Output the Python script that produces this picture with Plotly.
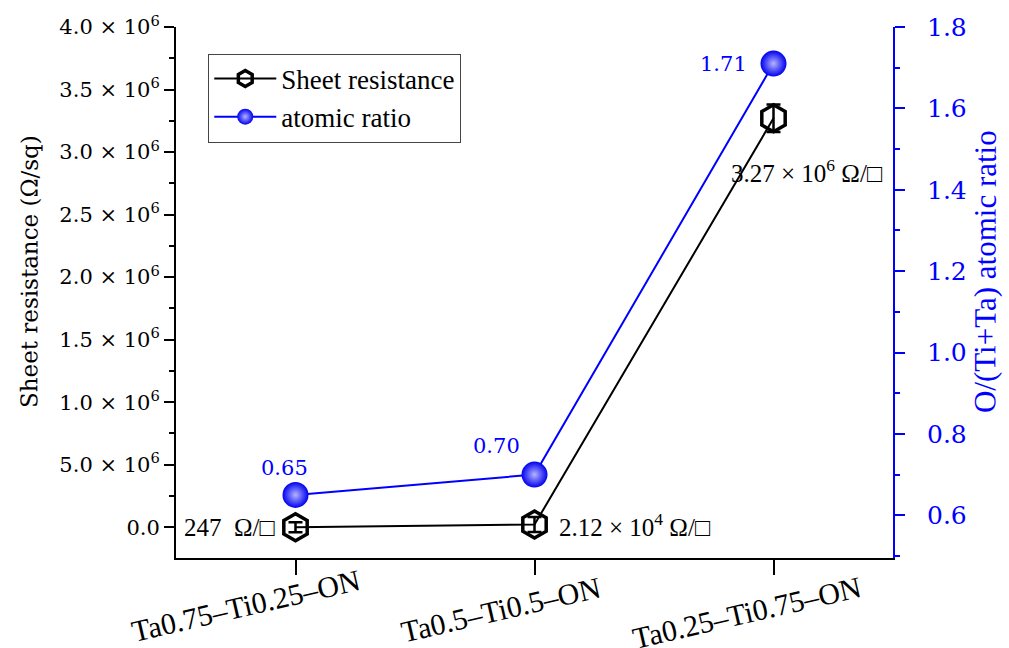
import plotly.graph_objects as go

# Samples along the x axis
samples = ["Ta0.75–Ti0.25–ON", "Ta0.5–Ti0.5–ON", "Ta0.25–Ti0.75–ON"]

# Sheet resistance (Ω/sq) with its error
sheet_res = [247, 2.12e4, 3.27e6]
sheet_err = [4.0e4, 6.0e4, 1.1e5]
sheet_labels = ["247  Ω/□", "2.12 × 10<sup>4</sup> Ω/□", "3.27 × 10<sup>6</sup> Ω/□"]

# O/(Ti+Ta) atomic ratio
atomic_ratio = [0.65, 0.70, 1.71]
ratio_labels = ["0.65", "0.70", "1.71"]

# Left axis ticks
left_tickvals = [0, 0.5e6, 1.0e6, 1.5e6, 2.0e6, 2.5e6, 3.0e6, 3.5e6, 4.0e6]
left_ticktext = ["0.0", "5.0 × 10<sup>6</sup>", "1.0 × 10<sup>6</sup>", "1.5 × 10<sup>6</sup>",
                 "2.0 × 10<sup>6</sup>", "2.5 × 10<sup>6</sup>", "3.0 × 10<sup>6</sup>",
                 "3.5 × 10<sup>6</sup>", "4.0 × 10<sup>6</sup>"]
# Right axis ticks
right_tickvals = [0.6, 0.8, 1.0, 1.2, 1.4, 1.6, 1.8]

# Axis titles
left_title = "Sheet resistance (Ω/sq)"
right_title = "O/(Ti+Ta) atomic ratio"

SERIF = "Liberation Serif"
WIDE_SERIF = "DejaVu Serif"
BLUE = "#0000ff"

fig = go.Figure()

fig.add_trace(go.Scatter(
    x=[0, 1, 2], y=sheet_res, name="Sheet resistance",
    mode="lines+markers",
    line=dict(color="black", width=2),
    marker=dict(symbol="hexagon-open", size=27, color="black",
                line=dict(width=3.5, color="black")),
    error_y=dict(type="data", array=sheet_err, visible=True,
                 color="black", thickness=2.5, width=7),
    yaxis="y",
))

fig.add_trace(go.Scatter(
    x=[0, 1, 2], y=atomic_ratio, name="atomic ratio",
    mode="lines+markers",
    line=dict(color=BLUE, width=2),
    marker=dict(symbol="circle", size=26, color="#0000f0",
                gradient=dict(type="radial", color="#b4b4ff"),
                line=dict(width=0)),
    yaxis="y2",
))

annotations = []

# Sheet resistance value labels
sheet_label_pos = [
    dict(xanchor="right", xshift=-18, yshift=0),
    dict(xanchor="left", xshift=22, yshift=0),
    dict(xanchor="left", xshift=-45, yshift=-53),
]
for i, (v, t) in enumerate(zip(sheet_res, sheet_labels)):
    p = sheet_label_pos[i]
    annotations.append(dict(
        x=i, y=v, xref="x", yref="y", text=t, showarrow=False,
        xanchor=p["xanchor"], yanchor="middle", xshift=p["xshift"], yshift=p["yshift"],
        font=dict(family=SERIF, size=25, color="black"),
    ))

# Atomic ratio value labels
ratio_label_pos = [
    dict(xanchor="center", xshift=-11, yshift=27),
    dict(xanchor="center", xshift=-38, yshift=29),
    dict(xanchor="right", xshift=-25, yshift=0),
]
for i, (v, t) in enumerate(zip(atomic_ratio, ratio_labels)):
    p = ratio_label_pos[i]
    annotations.append(dict(
        x=i, y=v, xref="x", yref="y2", text=t, showarrow=False,
        xanchor=p["xanchor"], yanchor="middle", xshift=p["xshift"], yshift=p["yshift"],
        font=dict(family=WIDE_SERIF, size=21, color=BLUE),
    ))

# Slanted category labels under the x axis
cat_label_pos = [(-50, -47), (-34, -51), (-27, -54)]
for i, name in enumerate(samples):
    dx, dy = cat_label_pos[i]
    annotations.append(dict(
        x=i, y=0, xref="x", yref="paper", text=name, showarrow=False,
        textangle=-13, xanchor="center", yanchor="middle",
        xshift=dx, yshift=dy,
        font=dict(family=SERIF, size=30, color="black"),
    ))

# Vertical axis titles
annotations.append(dict(
    x=-0.204, y=0.54, xref="paper", yref="paper", text=left_title,
    showarrow=False, textangle=-89.9, xanchor="center", yanchor="middle",
    font=dict(family=WIDE_SERIF, size=23, color="black"),
))
annotations.append(dict(
    x=1.128, y=0.54, xref="paper", yref="paper", text=right_title,
    showarrow=False, textangle=-89.9, xanchor="center", yanchor="middle",
    font=dict(family=SERIF, size=31, color=BLUE),
))

fig.update_layout(
    width=1009, height=648,
    margin=dict(l=176, r=116, t=24, b=90),
    paper_bgcolor="white", plot_bgcolor="white",
    font=dict(family=SERIF, color="black"),
    showlegend=True,
    legend=dict(
        x=0.045, y=0.95, xanchor="left", yanchor="top",
        bgcolor="white", bordercolor="#444", borderwidth=1,
        font=dict(family=SERIF, size=27, color="black"),
        tracegroupgap=0, itemwidth=62,
    ),
    xaxis=dict(
        range=[-0.5, 2.5], tickvals=[0, 1, 2], showticklabels=False,
        showline=True, linecolor="black", linewidth=2,
        ticks="outside", ticklen=15, tickwidth=2, tickcolor="black",
        showgrid=False, zeroline=False,
    ),
    xaxis2=dict(
        overlaying="x", side="top", range=[-0.5, 2.5], tickvals=[0, 1, 2],
        showticklabels=False, showline=True, linecolor="black", linewidth=2,
        ticks="inside", ticklen=11, tickwidth=2, tickcolor="black",
        showgrid=False, zeroline=False,
    ),
    yaxis=dict(
        range=[-0.246e6, 4.0e6], tickvals=left_tickvals, ticktext=left_ticktext,
        showline=True, linecolor="black", linewidth=2,
        ticks="outside", ticklen=10, tickwidth=2, tickcolor="black",
        minor=dict(dtick=0.25e6, tick0=0, ticks="outside", ticklen=5,
                   tickwidth=2, tickcolor="black"),
        tickfont=dict(family=WIDE_SERIF, size=21, color="black"),
        showgrid=False, zeroline=False,
    ),
    yaxis2=dict(
        overlaying="y", side="right", range=[0.495, 1.8], tickvals=right_tickvals,
        ticktext=[f"{v:.1f}" for v in right_tickvals],
        showline=True, linecolor=BLUE, linewidth=2,
        ticks="outside", ticklen=10, tickwidth=2, tickcolor=BLUE,
        ticklabelstandoff=17,
        minor=dict(dtick=0.1, tick0=0.6, ticks="outside", ticklen=5,
                   tickwidth=2, tickcolor=BLUE),
        tickfont=dict(family=WIDE_SERIF, size=25, color=BLUE),
        showgrid=False, zeroline=False,
    ),
    annotations=annotations,
)

fig.write_html("out.html")
